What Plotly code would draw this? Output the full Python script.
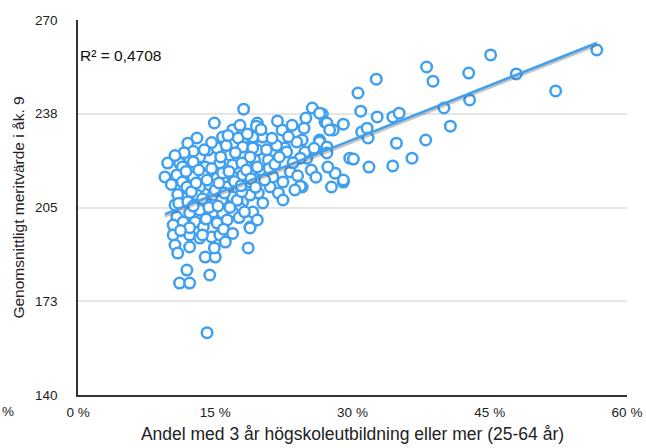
import numpy as np
import plotly.graph_objects as go

# Andel med 3 år högskoleutbildning (%) och genomsnittligt meritvärde
x_share = [
    56.7, 52.2, 45.1, 47.9, 42.7, 42.8, 38.1, 38.8, 40.0, 40.7, 38.0, 36.5, 34.8, 34.4,
    32.6, 30.6, 30.9, 32.7, 34.4, 35.1, 31.0, 31.6, 31.7, 31.8, 29.7, 30.1, 29.0, 29.0,
    27.7, 28.1, 27.3, 26.4, 27.0, 25.6, 26.7, 27.0, 24.9, 24.7, 27.9, 24.5, 25.0, 24.5,
    26.4, 27.2, 27.5, 22.3, 19.6, 20.2, 23.9, 26.4, 27.2, 22.6, 22.8, 24.8, 24.3, 27.2,
    20.8, 29.0, 23.2, 21.3, 22.4, 24.3, 23.7, 21.0, 21.9, 22.4, 19.7, 20.2, 19.1, 18.8,
    19.6, 19.9, 19.6, 19.1, 19.3,
    18.1, 14.9, 19.5, 16.9, 15.8, 17.5, 19.1, 13.0, 12.0, 14.2, 15.2, 18.0, 19.1, 16.6,
    18.8, 13.3, 12.2, 9.8, 11.1, 11.4, 12.6, 13.9, 15.5, 16.9, 17.9, 19.6, 9.5, 10.8,
    11.4, 12.6, 13.7, 15.2, 15.8, 16.9, 18.0, 18.8, 11.9, 13.3, 14.4, 16.3, 17.5, 10.6,
    11.5, 13.0, 13.9, 14.8, 15.7, 16.9, 18.0, 18.8, 17.7, 10.8, 12.2, 13.3, 14.8, 15.8,
    16.9, 10.4, 11.5, 12.8, 13.7, 15.2, 16.3, 18.8, 10.4, 12.2, 13.3, 14.6, 15.5, 10.6,
    10.9, 12.2, 13.9, 15.0, 18.6, 11.9, 14.4, 11.1, 12.2, 14.1,
    10.2, 10.9, 11.8, 12.4, 12.9, 13.6, 14.1, 14.6, 15.0, 15.4, 16.0, 16.5, 17.1, 17.4,
    17.9, 18.4, 18.9, 19.4, 20.4, 20.9, 21.5, 22.0, 21.7, 20.6, 20.0, 21.2, 23.0, 23.5,
    24.0, 25.5, 26.0, 25.8, 23.4, 21.8, 17.2, 16.2, 14.6, 13.8, 12.6, 11.6, 10.6, 13.2,
    11.0, 12.0, 12.6, 14.3, 15.3, 16.6, 17.6, 18.2, 14.0, 15.9, 16.9, 12.2, 11.2, 13.6,
    16.1, 14.9, 17.8, 15.6, 18.5, 17.7, 16.4,
]
y_merit = [
    259.6, 245.4, 257.9, 251.3, 251.6, 242.3, 253.7, 248.8, 239.5, 233.2, 228.4, 222.1, 227.3, 219.4,
    249.5, 244.7, 238.4, 236.4, 236.4, 237.7, 231.2, 232.5, 229.1, 219.0, 222.1, 221.8, 233.9, 213.8,
    212.1, 216.9, 219.0, 228.4, 224.9, 239.5, 237.4, 234.6, 236.0, 232.5, 231.9, 228.4, 222.1, 212.1,
    237.7, 234.3, 231.9, 231.9, 234.3, 229.4, 227.7, 227.7, 226.0, 225.6, 224.2, 224.2, 222.1, 223.9,
    221.5, 214.5, 217.3, 215.6, 213.8, 212.4, 211.1, 212.1, 210.0, 207.6, 210.0, 206.6, 203.4, 198.2,
    200.7, 218.0, 224.9, 228.4, 221.5,
    239.1, 234.3, 233.2, 231.9, 229.4, 229.1, 229.4, 229.1, 227.3, 224.9, 225.6, 226.0, 225.6, 223.2,
    222.5, 222.5, 222.1, 220.4, 220.4, 219.0, 220.8, 219.0, 220.4, 219.7, 220.4, 219.0, 215.6, 216.3,
    213.8, 215.6, 216.3, 215.2, 217.0, 215.6, 216.3, 213.8, 212.1, 212.1, 212.8, 212.1, 211.1, 205.9,
    208.3, 209.3, 206.9, 209.3, 207.6, 208.6, 206.9, 209.3, 204.8, 201.7, 203.1, 204.1, 203.4, 203.1,
    203.4, 198.9, 200.0, 200.0, 198.2, 199.6, 200.7, 197.9, 195.5, 195.5, 194.4, 194.8, 195.5, 192.0,
    189.2, 191.3, 187.8, 187.8, 191.0, 183.3, 181.6, 178.8, 178.8, 161.6,
    213.0, 209.5, 217.5, 210.5, 213.5, 208.0, 214.5, 218.5, 211.0, 213.5, 210.0, 217.5, 214.0, 207.5,
    210.5, 218.0, 215.0, 212.0, 214.5, 218.5, 220.0, 222.5, 226.5, 225.0, 232.0, 229.0, 229.5, 220.5,
    216.0, 218.0, 215.5, 225.5, 233.5, 235.0, 224.0, 226.5, 227.5, 225.0, 224.5, 224.0, 223.0, 218.0,
    206.5, 207.0, 205.5, 205.0, 205.5, 205.0, 201.5, 203.5, 201.0, 197.5, 196.0, 198.0, 197.0, 195.5,
    193.0, 191.0, 212.5, 222.5, 230.5, 233.5, 230.0,
]

# Linear trend line
trend_intercept = 190.8
trend_slope = 1.256

y_tick_vals = [140, 172.5, 205, 237.5, 270]
y_tick_text = ["140", "173", "205", "238", "270"]
x_tick_vals = [0, 15, 30, 45, 60]
x_tick_text = ["0 %", "15 %", "30 %", "45 %", "60 %"]
r2_label = "R² = 0,4708"
x_title = "Andel med 3 år högskoleutbildning eller mer (25-64 år)"
y_title = "Genomsnittligt meritvärde i åk. 9"

xs = np.array(x_share)
tx = np.array([xs.min(), xs.max()])
ty = trend_intercept + trend_slope * tx

FONT = "Liberation Sans, Arial, Helvetica, sans-serif"
BLUE = "#3f9ff0"

fig = go.Figure()
fig.add_trace(go.Scatter(
    x=x_share, y=y_merit, mode="markers",
    marker=dict(size=10.5, color="white", line=dict(color=BLUE, width=2.5)),
    hoverinfo="skip", showlegend=False, cliponaxis=False,
))
# trend line shadow + line
fig.add_trace(go.Scatter(
    x=tx, y=ty - 0.7, mode="lines",
    line=dict(color="rgba(90,90,90,0.35)", width=3),
    hoverinfo="skip", showlegend=False,
))
fig.add_trace(go.Scatter(
    x=tx, y=ty, mode="lines",
    line=dict(color=BLUE, width=2.5),
    hoverinfo="skip", showlegend=False,
))

fig.update_layout(
    width=646, height=448,
    margin=dict(l=78, r=19, t=20, b=53),
    paper_bgcolor="white", plot_bgcolor="white",
    font=dict(family=FONT, size=13.5, color="#222"),
    showlegend=False,
    annotations=[
        dict(text=r2_label, xref="paper", yref="paper", x=0.0, y=0.905,
             xanchor="left", yanchor="middle", showarrow=False,
             font=dict(size=15.5, color="#111", family=FONT)),
        dict(text="%", xref="paper", yref="paper", x=-78 / 549, y=-0.045,
             xanchor="left", yanchor="middle", showarrow=False,
             font=dict(size=13.5, color="#222", family=FONT)),
    ],
)
fig.update_xaxes(
    range=[0, 60], tickvals=x_tick_vals, ticktext=x_tick_text,
    showgrid=False, zeroline=False, automargin=False,
    showline=True, linecolor="#333", linewidth=1.5,
    ticks="", ticklabelstandoff=4,
    title=dict(text=x_title, font=dict(size=17.5, color="#222"), standoff=9),
    tickfont=dict(size=13.5, color="#222"),
)
fig.update_yaxes(
    range=[140, 270], tickvals=y_tick_vals, ticktext=y_tick_text,
    showgrid=True, gridcolor="#e6e6e6", gridwidth=1.5, zeroline=False,
    automargin=False,
    showline=True, linecolor="#333", linewidth=1.5,
    ticks="", ticklabelstandoff=16,
    title=dict(text=y_title, font=dict(size=15.5, color="#222"), standoff=7),
    tickfont=dict(size=13.5, color="#222"),
)

fig.write_html(
    "out.html",
    config={"displayModeBar": False},
    post_script="document.body.style.margin='0px';document.body.style.overflow='hidden';",
)
